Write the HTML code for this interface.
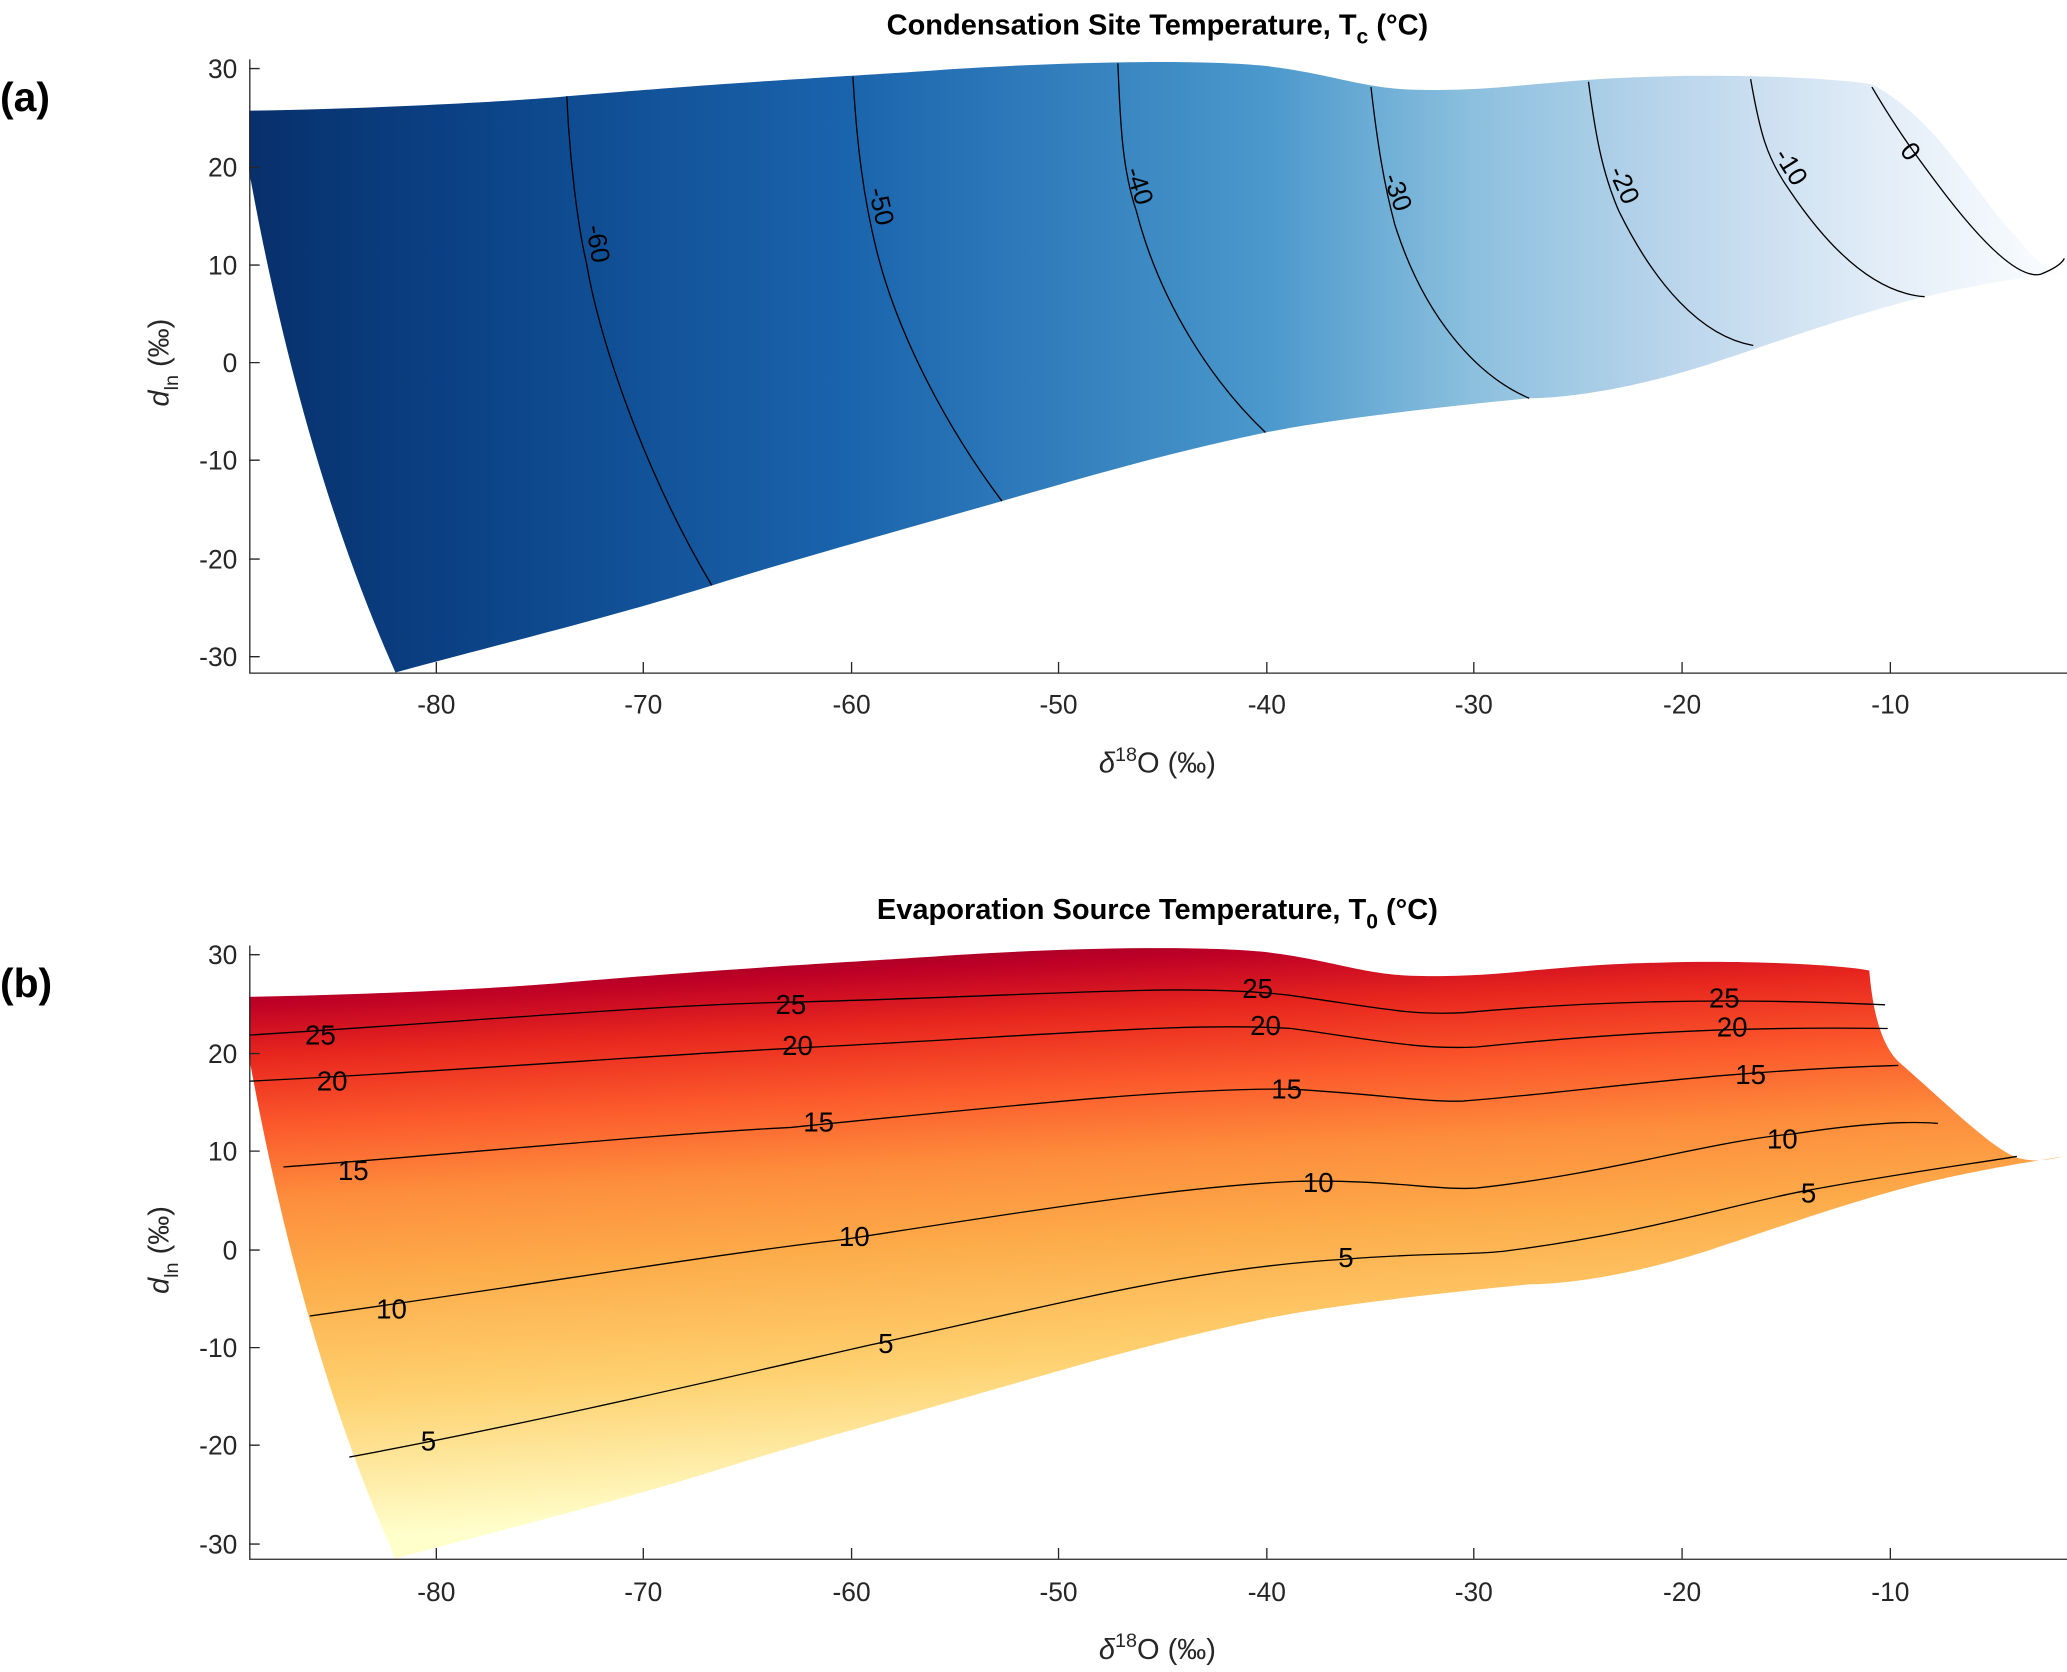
<!DOCTYPE html>
<html><head><meta charset="utf-8"><style>html,body{margin:0;padding:0;background:#fff}svg{display:block}</style></head>
<body>
<svg width="2067" height="1672" viewBox="0 0 1568 1268" preserveAspectRatio="none" xmlns="http://www.w3.org/2000/svg" font-family="Liberation Sans, sans-serif">
<defs>
<linearGradient id="ga" x1="189" y1="0" x2="1565" y2="0" gradientUnits="userSpaceOnUse">
<stop offset="0" stop-color="#08306b"/><stop offset="0.1" stop-color="#0a3f82"/><stop offset="0.33" stop-color="#1a64ad"/><stop offset="0.56" stop-color="#4a98cc"/><stop offset="0.675" stop-color="#8cc0de"/><stop offset="0.79" stop-color="#bcd6ec"/><stop offset="0.905" stop-color="#e4eef8"/><stop offset="1" stop-color="#fbfdff"/>
</linearGradient>
<linearGradient id="gb" x1="189" y1="720" x2="212" y2="1170" gradientUnits="userSpaceOnUse">
<stop offset="0" stop-color="#800026"/><stop offset="0.09" stop-color="#bd0026"/><stop offset="0.18" stop-color="#e8261e"/><stop offset="0.3" stop-color="#fc5a2c"/><stop offset="0.42" stop-color="#fd8d3c"/><stop offset="0.56" stop-color="#fdac4a"/><stop offset="0.76" stop-color="#fed170"/><stop offset="1" stop-color="#ffffcc"/>
</linearGradient>
</defs>
<!-- panel a -->
<path fill="url(#ga)" d="M189,84 C300,82 400,76 430,73 C560,62 640,58 700,54 C780,48 900,44 960,50 C1010,56 1030,66 1070,68 C1140,70 1170,60 1260,58 C1330,56 1400,60 1420,64 C1470,90 1500,150 1530,180 C1545,200 1555,207 1566,207 C1520,212 1490,218 1460,225 C1400,240 1340,262 1300,275 C1230,298 1180,302 1160,302 C1080,310 1010,318 960,328 C880,345 830,360 760,380 C680,403 600,425 540,444 C450,472 380,488 300,510 C260,420 220,300 189,130 Z"/>
<g fill="none" stroke="#000" stroke-width="1">
<path d="M430,73 C432,120 438,170 445,200 C455,260 490,360 540,444"/>
<path d="M647,58 C650,110 655,150 665,190 C680,250 715,320 760,380"/>
<path d="M848,48 C850,100 852,130 862,160 C880,230 920,290 960,328"/>
<path d="M1040,66 C1045,110 1050,140 1058,170 C1080,240 1120,285 1160,302"/>
<path d="M1205,62 C1210,100 1215,130 1228,160 C1255,215 1290,255 1330,262"/>
<path d="M1328,60 C1335,100 1340,120 1358,145 C1385,185 1420,222 1460,225"/>
<path d="M1420,66 C1440,100 1455,120 1470,140 C1500,180 1530,212 1548,208 C1558,204 1564,200 1566,196"/>
</g>
<g font-size="20" fill="#000" text-anchor="middle">
<text transform="translate(447,186) rotate(80)">-60</text>
<text transform="translate(662,158) rotate(77)">-50</text>
<text transform="translate(858,143) rotate(72)">-40</text>
<text transform="translate(1054,148) rotate(70)">-30</text>
<text transform="translate(1226,143) rotate(66)">-20</text>
<text transform="translate(1353,130) rotate(58)">-10</text>
<text transform="translate(1444,119) rotate(52)">0</text>
</g>
<!-- panel b -->
<path fill="url(#gb)" d="M189,756 C300,754 400,748 430,745 C560,734 640,730 700,726 C780,720 900,716 960,722 C1010,728 1030,738 1070,740 C1140,742 1170,732 1260,730 C1330,728 1400,732 1418,736 C1420,760 1425,790 1440,805 C1480,840 1510,870 1530,878 C1545,882 1555,879 1566,877 C1520,884 1490,890 1460,897 C1400,912 1340,934 1300,947 C1230,970 1180,974 1160,974 C1080,982 1010,990 960,1000 C880,1017 830,1032 760,1052 C680,1075 600,1097 540,1116 C450,1144 380,1160 300,1182 C260,1092 220,972 189,802 Z"/>
<g fill="none" stroke="#000" stroke-width="1">
<path d="M189,785 C350,775 500,762 600,760 C800,755 900,745 980,755 C1050,765 1070,770 1110,768 C1200,760 1300,756 1430,762"/>
<path d="M189,820 C350,812 500,800 600,795 C800,785 900,775 980,780 C1050,790 1080,796 1120,794 C1200,786 1300,778 1432,780"/>
<path d="M215,885 C350,875 500,860 600,855 C800,835 900,825 980,826 C1050,830 1080,836 1110,835 C1200,828 1300,812 1440,808"/>
<path d="M235,998 C400,975 550,950 640,940 C800,915 900,900 980,896 C1050,894 1090,903 1120,901 C1220,890 1300,865 1360,860 C1410,852 1450,850 1470,852"/>
<path d="M265,1105 C400,1080 550,1045 660,1020 C800,990 900,962 1020,955 C1080,950 1110,952 1140,949 C1250,935 1320,912 1370,903 C1440,890 1500,882 1530,877"/>
</g>
<g font-size="21" fill="#000" text-anchor="middle">
<text x="243" y="792">25</text><text x="600" y="769">25</text><text x="954" y="757">25</text><text x="1308" y="764">25</text>
<text x="252" y="827">20</text><text x="605" y="800">20</text><text x="960" y="785">20</text><text x="1314" y="786">20</text>
<text x="268" y="895">15</text><text x="621" y="858">15</text><text x="976" y="833">15</text><text x="1328" y="822">15</text>
<text x="297" y="1000">10</text><text x="648" y="945">10</text><text x="1000" y="904">10</text><text x="1352" y="871">10</text>
<text x="325" y="1100">5</text><text x="672" y="1026">5</text><text x="1021" y="961">5</text><text x="1372" y="912">5</text>
</g>
<!-- axes -->
<g stroke="#262626" stroke-width="1" fill="none">
<path d="M189.5,45 V510.5 H1568"/>
<path d="M189,52H197M189,127H197M189,201H197M189,275H197M189,349H197M189,424H197M189,498H197"/>
<path d="M331,510V502M488,510V502M646,510V502M803,510V502M961,510V502M1118,510V502M1276,510V502M1434,510V502"/>
<path d="M189.5,717 V1182.5 H1568"/>
<path d="M189,724H197M189,799H197M189,873H197M189,948H197M189,1022H197M189,1096H197M189,1171H197"/>
<path d="M331,1182V1174M488,1182V1174M646,1182V1174M803,1182V1174M961,1182V1174M1118,1182V1174M1276,1182V1174M1434,1182V1174"/>
</g>
<g font-size="20" fill="#262626" text-anchor="end">
<text x="180" y="59">30</text><text x="180" y="134">20</text><text x="180" y="208">10</text><text x="180" y="282">0</text><text x="180" y="356">-10</text><text x="180" y="431">-20</text><text x="180" y="505">-30</text>
<text x="180" y="731">30</text><text x="180" y="806">20</text><text x="180" y="880">10</text><text x="180" y="955">0</text><text x="180" y="1029">-10</text><text x="180" y="1103">-20</text><text x="180" y="1178">-30</text>
</g>
<g font-size="20" fill="#262626" text-anchor="middle">
<text x="331" y="541">-80</text><text x="488" y="541">-70</text><text x="646" y="541">-60</text><text x="803" y="541">-50</text><text x="961" y="541">-40</text><text x="1118" y="541">-30</text><text x="1276" y="541">-20</text><text x="1434" y="541">-10</text>
<text x="331" y="1214">-80</text><text x="488" y="1214">-70</text><text x="646" y="1214">-60</text><text x="803" y="1214">-50</text><text x="961" y="1214">-40</text><text x="1118" y="1214">-30</text><text x="1276" y="1214">-20</text><text x="1434" y="1214">-10</text>
</g>
<g font-size="22" fill="#262626" text-anchor="middle">
<text x="878" y="586"><tspan font-style="italic">δ</tspan><tspan dy="-9" font-size="15">18</tspan><tspan dy="9">O (‰)</tspan></text>
<text x="878" y="1258"><tspan font-style="italic">δ</tspan><tspan dy="-9" font-size="15">18</tspan><tspan dy="9">O (‰)</tspan></text>
<text transform="translate(128,275) rotate(-90)"><tspan font-style="italic">d</tspan><tspan dy="7" font-size="15">ln</tspan><tspan dy="-7"> (‰)</tspan></text>
<text transform="translate(128,948) rotate(-90)"><tspan font-style="italic">d</tspan><tspan dy="7" font-size="15">ln</tspan><tspan dy="-7"> (‰)</tspan></text>
</g>
<g font-size="22" font-weight="bold" fill="#000" text-anchor="middle">
<text x="878" y="26">Condensation Site Temperature, T<tspan dy="7" font-size="16">c</tspan><tspan dy="-7"> (°C)</tspan></text>
<text x="878" y="697">Evaporation Source Temperature, T<tspan dy="7" font-size="16">0</tspan><tspan dy="-7"> (°C)</tspan></text>
</g>
<g font-size="31" font-weight="bold" fill="#000">
<text x="0" y="84">(a)</text>
<text x="0" y="756">(b)</text>
</g>
</svg>
</body></html>
